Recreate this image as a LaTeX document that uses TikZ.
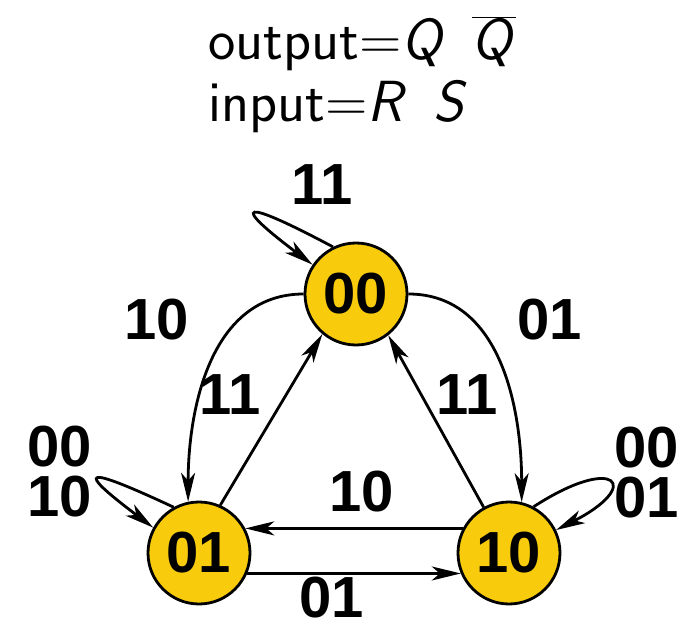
\documentclass[tikz,border=0pt]{standalone}
\usepackage{fontspec}
\newfontfamily\digitfont{Liberation Sans}
\usetikzlibrary{arrows.meta}
\definecolor{stfill}{RGB}{248,204,12}
\begin{document}
\begin{tikzpicture}[x=1pt,y=-1pt,
  state/.style={circle, draw=black, line width=2.8pt, fill=stfill, minimum size=102pt, inner sep=0pt, font=\digitfont\bfseries\fontsize{58}{58}\selectfont},
  lbl/.style={font=\digitfont\bfseries\fontsize{58}{58}\selectfont, inner sep=0pt},
  trans/.style={line width=2.8pt, -{Stealth[length=29pt,width=14pt,inset=8pt]}},
  ttl/.style={font=\sffamily\fontsize{58}{58}\selectfont, anchor=base west, inner sep=0pt}]
\useasboundingbox (0,0) rectangle (685,628);

\node[ttl] (t1) at (208,60) {output=\textsl{Q}\hspace{0.45em}$\overline{\mbox{\textsl{Q}}}$};
\node[ttl] (t2) at (208,122) {input=\textsl{R}\hspace{0.45em}\textsl{S}};

\node[state] (n00) at (356,294) {00};
\node[state] (n01) at (199,553) {01};
\node[state] (n10) at (509,553) {10};

% self loops
\draw[trans] (n00.116) .. controls +(152:105pt) and +(143:105pt) .. (n00.146);
\draw[trans] (n01.119) .. controls +(155:100pt) and +(143:100pt) .. (n01.151);
\draw[trans] (n10.62) .. controls +(33:98pt) and +(27:98pt) .. (n10.26);

% transitions
\draw[trans] (n00.west) to[out=180,in=90] (n01.102);
\draw[trans] (n01.66) -- (n00.230);
\draw[trans] (n00.east) to[out=0,in=90] (n10.76);
\draw[trans] (n10.119) -- (n00.308);
\draw[trans] (n10.152) -- (n01.28);
\draw[trans] (n01.-23) -- (n10.203);

% labels
\node[lbl] (l1) at (322,185) {11};
\node[lbl] (l2) at (157,320) {10};
\node[lbl] (l3) at (230,395) {11};
\node[lbl] (l4) at (550,320) {01};
\node[lbl] (l5) at (467,395) {11};
\node[lbl] (l6) at (362,492) {10};
\node[lbl] (l7) at (332,598) {01};
\node[lbl] (l8) at (60,447) {00};
\node[lbl] (l9) at (60,497) {10};
\node[lbl] (l10) at (647,448) {00};
\node[lbl] (l11) at (647,498) {01};
\end{tikzpicture}
\end{document}
